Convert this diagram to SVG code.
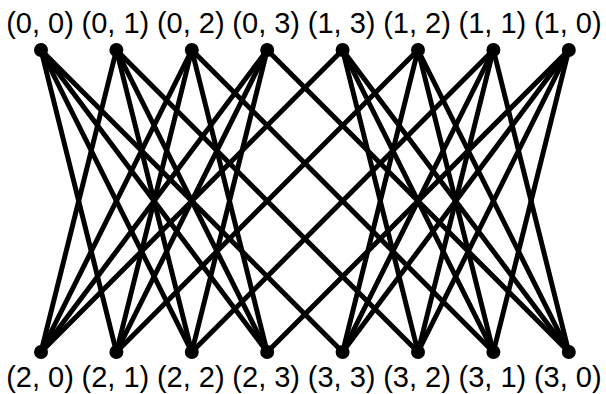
<svg xmlns="http://www.w3.org/2000/svg" width="606" height="394" viewBox="0 0 606 394">
<style>
.e{stroke:#000;stroke-width:5;stroke-linecap:round}
.n{fill:#000}
.t{font-family:"Liberation Sans",Arial,sans-serif;font-size:29px;text-anchor:middle;fill:#000}
</style>
<rect width="606" height="394" fill="#fff"/>
<g id="edges">
<line class="e" x1="41" y1="50" x2="116.4" y2="352"/>
<line class="e" x1="41" y1="50" x2="191.8" y2="352"/>
<line class="e" x1="41" y1="50" x2="267.2" y2="352"/>
<line class="e" x1="41" y1="50" x2="342.6" y2="352"/>
<line class="e" x1="116.4" y1="50" x2="41" y2="352"/>
<line class="e" x1="116.4" y1="50" x2="191.8" y2="352"/>
<line class="e" x1="116.4" y1="50" x2="267.2" y2="352"/>
<line class="e" x1="116.4" y1="50" x2="418" y2="352"/>
<line class="e" x1="191.8" y1="50" x2="41" y2="352"/>
<line class="e" x1="191.8" y1="50" x2="116.4" y2="352"/>
<line class="e" x1="191.8" y1="50" x2="267.2" y2="352"/>
<line class="e" x1="191.8" y1="50" x2="493.4" y2="352"/>
<line class="e" x1="267.2" y1="50" x2="41" y2="352"/>
<line class="e" x1="267.2" y1="50" x2="116.4" y2="352"/>
<line class="e" x1="267.2" y1="50" x2="191.8" y2="352"/>
<line class="e" x1="267.2" y1="50" x2="568.8" y2="352"/>
<line class="e" x1="342.6" y1="50" x2="568.8" y2="352"/>
<line class="e" x1="342.6" y1="50" x2="493.4" y2="352"/>
<line class="e" x1="342.6" y1="50" x2="418" y2="352"/>
<line class="e" x1="342.6" y1="50" x2="41" y2="352"/>
<line class="e" x1="418" y1="50" x2="568.8" y2="352"/>
<line class="e" x1="418" y1="50" x2="493.4" y2="352"/>
<line class="e" x1="418" y1="50" x2="342.6" y2="352"/>
<line class="e" x1="418" y1="50" x2="116.4" y2="352"/>
<line class="e" x1="493.4" y1="50" x2="568.8" y2="352"/>
<line class="e" x1="493.4" y1="50" x2="418" y2="352"/>
<line class="e" x1="493.4" y1="50" x2="342.6" y2="352"/>
<line class="e" x1="493.4" y1="50" x2="191.8" y2="352"/>
<line class="e" x1="568.8" y1="50" x2="493.4" y2="352"/>
<line class="e" x1="568.8" y1="50" x2="418" y2="352"/>
<line class="e" x1="568.8" y1="50" x2="342.6" y2="352"/>
<line class="e" x1="568.8" y1="50" x2="267.2" y2="352"/>
</g>
<g id="n00"><circle class="n" cx="41" cy="50" r="7"/><text class="t" x="40" y="33">(0, 0)</text></g>
<g id="n01"><circle class="n" cx="116.4" cy="50" r="7"/><text class="t" x="115.4" y="33">(0, 1)</text></g>
<g id="n02"><circle class="n" cx="191.8" cy="50" r="7"/><text class="t" x="190.8" y="33">(0, 2)</text></g>
<g id="n03"><circle class="n" cx="267.2" cy="50" r="7"/><text class="t" x="266.2" y="33">(0, 3)</text></g>
<g id="n13"><circle class="n" cx="342.6" cy="50" r="7"/><text class="t" x="341.6" y="33">(1, 3)</text></g>
<g id="n12"><circle class="n" cx="418" cy="50" r="7"/><text class="t" x="417" y="33">(1, 2)</text></g>
<g id="n11"><circle class="n" cx="493.4" cy="50" r="7"/><text class="t" x="492.4" y="33">(1, 1)</text></g>
<g id="n10"><circle class="n" cx="568.8" cy="50" r="7"/><text class="t" x="567.8" y="33">(1, 0)</text></g>
<g id="n20"><circle class="n" cx="41" cy="352" r="7"/><text class="t" x="40" y="387">(2, 0)</text></g>
<g id="n21"><circle class="n" cx="116.4" cy="352" r="7"/><text class="t" x="115.4" y="387">(2, 1)</text></g>
<g id="n22"><circle class="n" cx="191.8" cy="352" r="7"/><text class="t" x="190.8" y="387">(2, 2)</text></g>
<g id="n23"><circle class="n" cx="267.2" cy="352" r="7"/><text class="t" x="266.2" y="387">(2, 3)</text></g>
<g id="n33"><circle class="n" cx="342.6" cy="352" r="7"/><text class="t" x="341.6" y="387">(3, 3)</text></g>
<g id="n32"><circle class="n" cx="418" cy="352" r="7"/><text class="t" x="417" y="387">(3, 2)</text></g>
<g id="n31"><circle class="n" cx="493.4" cy="352" r="7"/><text class="t" x="492.4" y="387">(3, 1)</text></g>
<g id="n30"><circle class="n" cx="568.8" cy="352" r="7"/><text class="t" x="567.8" y="387">(3, 0)</text></g>
</svg>
